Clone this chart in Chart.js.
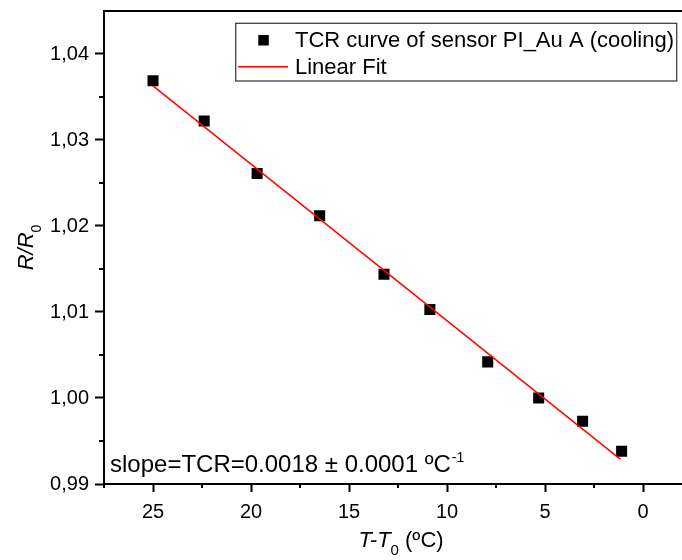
<!DOCTYPE html>
<html>
<head>
<meta charset="utf-8">
<script src="https://cdn.jsdelivr.net/npm/chart.js@4.4.1/dist/chart.umd.min.js"></script>
<style>
  html, body { margin: 0; padding: 0; background: #fff; overflow: hidden; }
  #wrap { width: 682px; height: 560px; overflow: hidden; position: relative; }
  #c { display: block; margin-top: -40px; }
</style>
</head>
<body>
<div id="wrap"><canvas id="c" width="700" height="600"></canvas></div>
<script>
// Measured resistance ratio versus temperature difference (cooling run)
const tempDiff = [25.0, 22.39, 19.69, 16.50, 13.22, 10.88, 7.93, 5.33, 3.09, 1.10];
const ratio    = [1.0369, 1.0322, 1.0261, 1.0212, 1.0144, 1.0103, 1.0042, 1.0000, 0.9973, 0.9938];

// End points of the fitted straight line
const fitX = [25.0, 1.17];
const fitY = [1.0363, 0.9929];

// Axis ticks
const xTicks = [25, 20, 15, 10, 5, 0];
const xTickLabels = ['25', '20', '15', '10', '5', '0'];
const xMinorTicks = [27.5, 22.5, 17.5, 12.5, 7.5, 2.5, -2.5];
const yTicks = [0.99, 1.00, 1.01, 1.02, 1.03, 1.04];
const yTickLabels = ['0,99', '1,00', '1,01', '1,02', '1,03', '1,04'];
const yMinorTicks = [0.995, 1.005, 1.015, 1.025, 1.035];

const seriesLabel = 'TCR curve of sensor PI_Au A (cooling)';
const fitLabel = 'Linear Fit';
const slopeText = 'slope=TCR=0.0018 \u00B1 0.0001 \u00BAC';
const slopeUnitExp = '-1';

const FONT = '"Liberation Sans", Arial, Helvetica, sans-serif';

// Frame, minor ticks, axis titles, annotation and legend box
const decorations = {
  id: 'decorations',
  afterDraw(chart) {
    const ctx = chart.ctx;
    const a = chart.chartArea;
    const xs = chart.scales.x, ys = chart.scales.y;
    ctx.save();
    ctx.strokeStyle = '#000';
    ctx.fillStyle = '#000';

    // top and right frame lines
    ctx.lineWidth = 2;
    ctx.beginPath();
    ctx.moveTo(a.left - 1, a.top);
    ctx.lineTo(a.right + 1, a.top);
    ctx.moveTo(a.right, a.top);
    ctx.lineTo(a.right, a.bottom);
    ctx.stroke();

    // minor ticks
    ctx.lineWidth = 2;
    ctx.beginPath();
    xMinorTicks.forEach(v => {
      const px = Math.round(xs.getPixelForValue(v));
      ctx.moveTo(px, a.bottom);
      ctx.lineTo(px, a.bottom + 4);
    });
    yMinorTicks.forEach(v => {
      const py = Math.round(ys.getPixelForValue(v));
      ctx.moveTo(a.left, py);
      ctx.lineTo(a.left - 5, py);
    });
    ctx.stroke();

    // annotation with the fitted slope
    ctx.textBaseline = 'alphabetic';
    ctx.textAlign = 'left';
    ctx.font = '24px ' + FONT;
    const sx = a.left + 6, sy = a.bottom - 12.3;
    ctx.fillText(slopeText, sx, sy);
    const sw = ctx.measureText(slopeText).width;
    ctx.font = '14px ' + FONT;
    ctx.fillText(slopeUnitExp, sx + sw + 1, sy - 10);

    // x axis title: T-T0 (ºC)
    const xt1 = 'T-T', xt2 = '0', xt3 = ' (\u00BAC)';
    ctx.font = 'italic 22px ' + FONT;
    const w1 = ctx.measureText(xt1).width;
    ctx.font = '15px ' + FONT;
    const w2 = ctx.measureText(xt2).width;
    ctx.font = '22px ' + FONT;
    const w3 = ctx.measureText(xt3).width;
    let tx = a.left + 297 - (w1 + w2 + w3) / 2;
    const ty = a.bottom + 63;
    ctx.font = 'italic 22px ' + FONT;
    ctx.fillText(xt1, tx, ty);
    tx += w1;
    ctx.font = '15px ' + FONT;
    ctx.fillText(xt2, tx, ty + 8);
    tx += w2;
    ctx.font = '22px ' + FONT;
    ctx.fillText(xt3, tx, ty);

    // y axis title: R/R0
    const yt1 = 'R/R', yt2 = '0';
    ctx.save();
    ctx.translate(33, (a.top + a.bottom) / 2);
    ctx.rotate(-Math.PI / 2);
    ctx.font = 'italic 22px ' + FONT;
    const v1 = ctx.measureText(yt1).width;
    ctx.font = '14px ' + FONT;
    const v2 = ctx.measureText(yt2).width;
    let yx = -(v1 + v2) / 2;
    ctx.font = 'italic 22px ' + FONT;
    ctx.fillText(yt1, yx, 0);
    ctx.font = '14px ' + FONT;
    ctx.fillText(yt2, yx + v1, 8);
    ctx.restore();

    // legend box
    const lx = a.left + 131.7, ly = a.top + 12.3;
    const lw = 441, lh = 57.7;
    ctx.fillStyle = '#fff';
    ctx.fillRect(lx, ly, lw, lh);
    ctx.strokeStyle = '#404040';
    ctx.lineWidth = 1.3;
    ctx.strokeRect(lx, ly, lw, lh);

    const ds = chart.data.datasets;
    // marker entry
    ctx.fillStyle = ds[0].backgroundColor;
    ctx.fillRect(a.left + 154.3, a.top + 24, 10.5, 10.5);
    // line entry
    ctx.strokeStyle = ds[1].borderColor;
    ctx.lineWidth = 1.5;
    ctx.beginPath();
    ctx.moveTo(a.left + 134, a.top + 55.7);
    ctx.lineTo(a.left + 184, a.top + 55.7);
    ctx.stroke();

    ctx.fillStyle = '#000';
    ctx.font = '22px ' + FONT;
    ctx.fillText(ds[0].label, a.left + 191, a.top + 35.7);
    ctx.fillText(ds[1].label, a.left + 191, a.top + 63);

    ctx.restore();
  }
};

new Chart(document.getElementById('c'), {
  type: 'scatter',
  data: {
    datasets: [
      {
        label: seriesLabel,
        data: tempDiff.map((x, i) => ({ x: x, y: ratio[i] })),
        pointStyle: 'rect',
        pointRadius: 7.8,
        pointHoverRadius: 7.8,
        backgroundColor: '#000000',
        borderColor: '#000000',
        borderWidth: 0,
        showLine: false,
        order: 1
      },
      {
        label: fitLabel,
        type: 'line',
        data: fitX.map((x, i) => ({ x: x, y: fitY[i] })),
        borderColor: '#ff0000',
        backgroundColor: '#ff0000',
        borderWidth: 1.5,
        pointRadius: 0,
        fill: false,
        tension: 0,
        order: 0
      }
    ]
  },
  options: {
    responsive: false,
    animation: false,
    devicePixelRatio: 1,
    layout: { padding: { top: 51, right: 7, left: 0, bottom: 0 } },
    plugins: { legend: { display: false }, tooltip: { enabled: false } },
    scales: {
      x: {
        type: 'linear',
        position: 'bottom',
        min: -2.5,
        max: 27.5,
        reverse: true,
        afterBuildTicks: s => { s.ticks = xTicks.map(v => ({ value: v })); },
        afterFit: s => { s.height = 76; },
        ticks: {
          autoSkip: false,
          maxRotation: 0,
          color: '#000',
          padding: 8,
          font: { family: FONT, size: 20 },
          callback: v => xTickLabels[xTicks.indexOf(v)]
        },
        grid: { drawOnChartArea: false, drawTicks: true, tickLength: 8, tickWidth: 2, tickColor: '#000' },
        border: { display: true, color: '#000', width: 2 }
      },
      y: {
        type: 'linear',
        min: 0.99,
        max: 1.045,
        afterBuildTicks: s => { s.ticks = yTicks.map(v => ({ value: v })); },
        afterFit: s => { s.width = 104; },
        ticks: {
          autoSkip: false,
          color: '#000',
          padding: 6,
          font: { family: FONT, size: 20 },
          callback: v => yTickLabels[yTicks.indexOf(v)]
        },
        grid: { drawOnChartArea: false, drawTicks: true, tickLength: 9, tickWidth: 2, tickColor: '#000' },
        border: { display: true, color: '#000', width: 2 }
      }
    }
  },
  plugins: [decorations]
});
</script>
</body>
</html>
